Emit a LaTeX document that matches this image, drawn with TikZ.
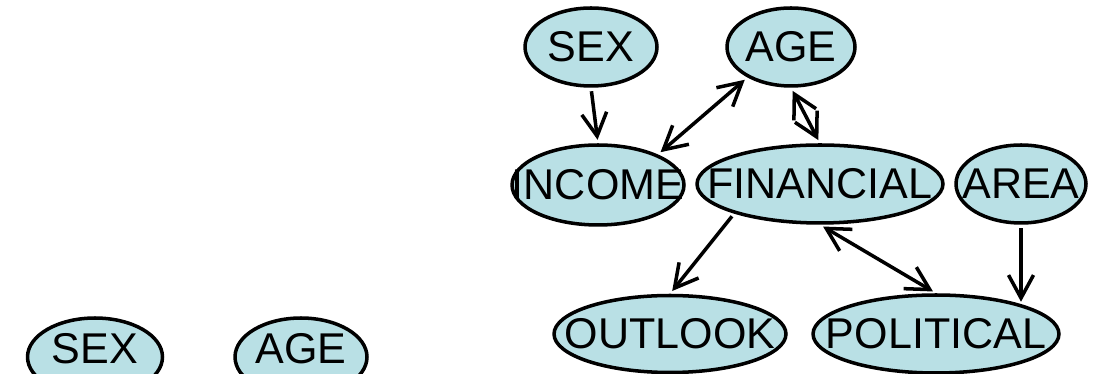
\documentclass[tikz,border=0pt]{standalone}
\usepackage{fontspec}
\setmainfont{Liberation Sans}
\usetikzlibrary{shapes.geometric,arrows.meta}
\definecolor{varfill}{RGB}{185,224,229}

\begin{document}
\begin{tikzpicture}[x=0.02cm,y=0.02cm,
    var/.style={ellipse,draw,fill=varfill,line width=2pt,inner sep=0pt,minimum height=1.56cm,font=\fontsize{24.5}{28}\selectfont},
    link/.style={line width=2pt,shorten <=2pt,shorten >=2pt,>={Straight Barb[length=0.46cm,width=0.5cm]}}]
    \useasboundingbox (0,0) rectangle (1094,374);

    \node[var,minimum width=2.7cm] (sexa) at (95,17) {\makebox[0pt]{\raisebox{0.36cm}{SEX}}};
    \node[var,minimum width=2.64cm] (agea) at (301,17) {\makebox[0pt]{\raisebox{0.36cm}{AGE}}};

    \node[var,minimum width=2.64cm] (sex) at (591,327) {\makebox[0pt]{SEX}};
    \node[var,minimum width=2.56cm] (age) at (791,327) {\makebox[0pt]{AGE}};
    \node[var,minimum width=3.44cm,minimum height=1.6cm] (income) at (598,189) {\makebox[0pt]{INCOME}};
    \node[var,minimum width=4.92cm] (financial) at (820,190) {\makebox[0pt]{FINANCIAL}};
    \node[var,minimum width=2.6cm] (area) at (1021,190) {\makebox[0pt]{AREA}};
    \node[var,minimum width=4.64cm,minimum height=1.54cm] (outlook) at (670,40) {\makebox[0pt]{OUTLOOK}};
    \node[var,minimum width=4.92cm] (political) at (936,40) {\makebox[0pt]{POLITICAL}};

    \draw[link,->] (sex.south) -- (income.north);
    \draw[link,<->] (income.27) -- (age.215);
    \draw[link,<->] (age.south) -- (financial.north);
    \draw[link,->] (financial.199) -- (outlook.north);
    \draw[link,<->] (financial.south) -- (political.north);
    \draw[link,->] (area.south) -- (area.south |- political.18);
\end{tikzpicture}
\end{document}
